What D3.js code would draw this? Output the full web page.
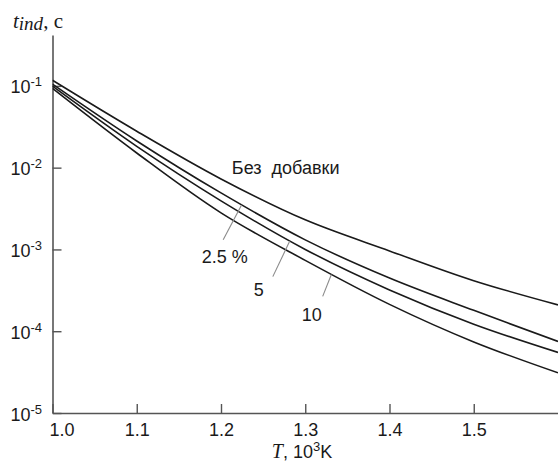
<!DOCTYPE html>
<html>
<head>
<meta charset="utf-8">
<script src="https://cdn.jsdelivr.net/npm/d3@7"></script>
<style>
  html, body { margin: 0; padding: 0; background: #fff; }
  svg { display: block; }
  .sans { font-family: "Liberation Sans", Arial, Helvetica, sans-serif; }
  .serif { font-family: "Liberation Serif", "DejaVu Serif", serif; }
</style>
</head>
<body>
<svg id="chart" width="558" height="464"></svg>
<script>
// Temperature, 10^3 K
const temperature = [1.0, 1.1, 1.2, 1.3, 1.4, 1.5, 1.6];

// Ignition delay t_ind, s
const noAdditive  = [0.117, 2.79e-2, 7.28e-3, 2.30e-3, 9.6e-4, 4.15e-4, 2.1e-4];
const additive2_5 = [0.105, 2.12e-2, 4.91e-3, 1.31e-3, 4.47e-4, 1.80e-4, 7.5e-5];
const additive5   = [0.099, 1.82e-2, 3.93e-3, 1.00e-3, 3.20e-4, 1.22e-4, 5.5e-5];
const additive10  = [0.093, 1.51e-2, 2.80e-3, 7.35e-4, 2.13e-4, 7.4e-5, 3.1e-5];

const seriesNames = ["Без добавки", "2.5 %", "5", "10"];
const seriesValues = [noAdditive, additive2_5, additive5, additive10];

const xTicks = [1.0, 1.1, 1.2, 1.3, 1.4, 1.5];
const yTickExponents = [-1, -2, -3, -4, -5];

// Curve labels: leader starts on the curve at leaderT, runs to (endT, endV);
// text sits at (textT, textV).
const labelLeaderT = [null, 1.2244, 1.2816, 1.331];
const labelEndT    = [null, 1.2026, 1.2615, 1.3207];
const labelEndV    = [null, 1.31e-3, 4.65e-4, 2.67e-4];
const labelTextT   = [1.2129, 1.2318, 1.2449, 1.3077];
const labelTextV   = [8.38e-3, 6.87e-4, 2.67e-4, 1.32e-4];
const labelAnchor  = ["start", "end", "middle", "middle"];

const svg = d3.select("#chart");
const plotLeft = 52.5, plotRight = 558, plotTop = 35, plotBottom = 413;

const x = d3.scaleLinear().domain([1.0, 1.6]).range([plotLeft, plotRight]);
const y = d3.scaleLog().domain([1e-5, Math.pow(10, -0.378)]).range([plotBottom, plotTop]);

const axisColor = "#555";
const inkColor = "#1a1a1a";

// X axis with inward ticks
const gx = svg.append("g")
  .attr("transform", `translate(0,${plotBottom})`)
  .call(d3.axisBottom(x).tickValues(xTicks).tickSize(-9).tickSizeOuter(0)
        .tickFormat(d3.format(".1f")).tickPadding(10));
gx.select(".domain").attr("stroke", axisColor).attr("stroke-width", 1.6);
gx.selectAll(".tick line").attr("stroke", axisColor).attr("stroke-width", 1.4);
gx.selectAll(".tick text")
  .attr("class", "sans")
  .attr("font-size", 18)
  .attr("fill", inkColor)
  .attr("dy", "0.74em")
  .attr("dx", d => d === 1.0 ? 9 : 0);

// Y axis with inward ticks and power-of-ten labels
const gy = svg.append("g")
  .attr("transform", `translate(${plotLeft},0)`)
  .call(d3.axisLeft(y).tickValues(yTickExponents.map(e => Math.pow(10, e)))
        .tickSize(-9).tickSizeOuter(0).tickFormat(""));
gy.select(".domain").attr("stroke", axisColor).attr("stroke-width", 1.6);
gy.selectAll(".tick line").attr("stroke", axisColor).attr("stroke-width", 1.4);
gy.selectAll(".tick").each(function(d, i) {
  const t = d3.select(this).append("text")
    .attr("class", "sans")
    .attr("fill", inkColor)
    .attr("x", -42)
    .attr("y", 7)
    .attr("text-anchor", "start")
    .attr("font-size", 18);
  t.append("tspan").text("10");
  t.append("tspan").attr("font-size", 13).attr("dy", -7)
    .text("-" + Math.abs(yTickExponents[i]));
});

// Curves
const line = d3.line()
  .x((d, i) => x(temperature[i]))
  .y(d => y(d))
  .curve(d3.curveCatmullRom.alpha(0.5));

svg.append("clipPath").attr("id", "plot")
  .append("rect").attr("x", plotLeft).attr("y", plotTop)
  .attr("width", plotRight - plotLeft).attr("height", plotBottom - plotTop);

const paths = seriesValues.map(vals =>
  svg.append("path")
    .datum(vals)
    .attr("clip-path", "url(#plot)")
    .attr("fill", "none")
    .attr("stroke", inkColor)
    .attr("stroke-width", 1.6)
    .attr("d", line)
    .node()
);

// y-coordinate of a rendered path at a given x
function pathYAt(node, px) {
  let lo = 0, hi = node.getTotalLength();
  for (let k = 0; k < 40; k++) {
    const mid = (lo + hi) / 2;
    if (node.getPointAtLength(mid).x < px) lo = mid; else hi = mid;
  }
  return node.getPointAtLength((lo + hi) / 2).y;
}

// Leader lines and labels
seriesNames.forEach((name, i) => {
  if (labelLeaderT[i] !== null) {
    const x0 = x(labelLeaderT[i]);
    svg.append("line")
      .attr("x1", x0).attr("y1", pathYAt(paths[i], x0))
      .attr("x2", x(labelEndT[i])).attr("y2", y(labelEndV[i]))
      .attr("stroke", "#8a8a8a").attr("stroke-width", 1.1);
  }
  svg.append("text")
    .attr("class", "sans")
    .attr("x", x(labelTextT[i]))
    .attr("y", y(labelTextV[i]))
    .attr("text-anchor", labelAnchor[i])
    .attr("font-size", 18)
    .attr("fill", inkColor)
    .style("white-space", "pre")
    .text(name === "Без добавки" ? "Без  добавки" : name);
});

// Axis titles
const yt = svg.append("text").attr("x", 13).attr("y", 28).attr("fill", inkColor);
yt.append("tspan").attr("class", "serif").attr("font-style", "italic").attr("font-size", 21).text("t");
yt.append("tspan").attr("class", "serif").attr("font-style", "italic").attr("font-size", 19).attr("dy", 2).text("ind");
yt.append("tspan").attr("class", "serif").attr("font-size", 21).attr("dy", -2).text(", с");

const xt = svg.append("text").attr("x", 302).attr("y", 458).attr("text-anchor", "middle").attr("fill", inkColor);
xt.append("tspan").attr("class", "serif").attr("font-style", "italic").attr("font-size", 20).text("T");
xt.append("tspan").attr("class", "sans").attr("font-size", 18).text(", 10");
xt.append("tspan").attr("class", "sans").attr("font-size", 13).attr("dy", -7).text("3");
xt.append("tspan").attr("class", "sans").attr("font-size", 18).attr("dy", 7).text("K");
</script>
</body>
</html>
